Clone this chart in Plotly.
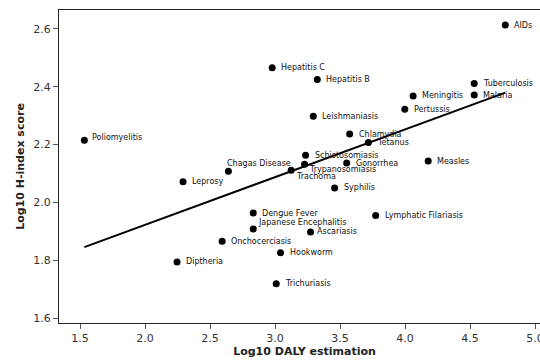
import numpy as np
import plotly.graph_objects as go

diseases = ["AIDs", "Tuberculosis", "Malaria", "Hepatitis C", "Hepatitis B", "Meningitis",
            "Pertussis", "Leishmaniasis", "Chlamydia", "Tetanus", "Schistosomiasis", "Gonorrhea",
            "Trypanosomiasis", "Trachoma", "Measles", "Chagas Disease", "Leprosy", "Poliomyelitis",
            "Syphilis", "Dengue Fever", "Lymphatic Filariasis", "Japanese Encephalitis",
            "Ascariasis", "Onchocerciasis", "Hookworm", "Diptheria", "Trichuriasis"]
log_daly = [4.771, 4.532, 4.532, 2.978, 3.325, 4.062,
            3.998, 3.294, 3.574, 3.718, 3.235, 3.551,
            3.227, 3.124, 4.178, 2.641, 2.292, 1.533,
            3.458, 2.832, 3.774, 2.832,
            3.273, 2.593, 3.042, 2.246, 3.009]
log_hindex = [2.613, 2.411, 2.371, 2.465, 2.425, 2.368,
              2.322, 2.298, 2.236, 2.207, 2.163, 2.136,
              2.132, 2.111, 2.143, 2.108, 2.071, 2.215,
              2.050, 1.963, 1.955, 1.908,
              1.898, 1.866, 1.826, 1.794, 1.719]
x_ticks = [1.5, 2.0, 2.5, 3.0, 3.5, 4.0, 4.5, 5.0]
y_ticks = [1.6, 1.8, 2.0, 2.2, 2.4, 2.6]

# label offsets in pixels (dx right, dy up) - styling only
default_off = (7, 0)
label_off = {
    "Chagas Disease": (-3, 8),
    "Trypanosomiasis": (2, -5),
    "Trachoma": (3, -6),
    "Japanese Encephalitis": (3, 6),
    "Ascariasis": (4, 0),
    "Poliomyelitis": (6, 3),
}

x = np.array(log_daly)
y = np.array(log_hindex)
slope, intercept = np.polyfit(x, y, 1)
xl = np.array([x.min(), x.max()])
yl = slope * xl + intercept

fig = go.Figure()
fig.add_trace(go.Scatter(x=xl, y=yl, mode="lines",
                         line=dict(color="black", width=2), hoverinfo="skip", showlegend=False))
fig.add_trace(go.Scatter(x=log_daly, y=log_hindex, mode="markers",
                         marker=dict(color="black", size=7), text=diseases, showlegend=False))

for name, xv, yv in zip(diseases, log_daly, log_hindex):
    dx, dy = label_off.get(name, default_off)
    fig.add_annotation(x=xv, y=yv, text=name, showarrow=False, xanchor="left", yanchor="middle",
                       xshift=dx, yshift=dy,
                       font=dict(family="DejaVu Sans", size=8, color="#111111"))

axis_common = dict(showline=True, linecolor="#222222", linewidth=1, ticks="outside",
                   ticklen=5, tickcolor="#555555", showgrid=False, zeroline=False,
                   automargin=False,
                   tickfont=dict(family="DejaVu Sans", size=11, color="#333333"),
                   title_font=dict(family="DejaVu Sans", size=11, color="#222222"))

fig.update_layout(
    width=550, height=360,
    margin=dict(l=59, r=0, t=10, b=37),
    paper_bgcolor="white", plot_bgcolor="white",
    xaxis=dict(range=[1.338, 5.115], tickvals=x_ticks, ticktext=[f"{v:.1f}" for v in x_ticks],
               title=dict(text="<b>Log10 DALY estimation</b>", standoff=2), mirror=True, **axis_common),
    yaxis=dict(range=[1.583, 2.665], tickvals=y_ticks, ticktext=[f"{v:.1f}" for v in y_ticks],
               title=dict(text="<b>Log10 H-index score</b>", standoff=6), **axis_common),
)

fig.write_html("out.html", config={"displayModeBar": False},
               post_script="document.body.style.margin='0';document.body.style.overflow='hidden';"
                           "document.documentElement.style.overflow='hidden';")
